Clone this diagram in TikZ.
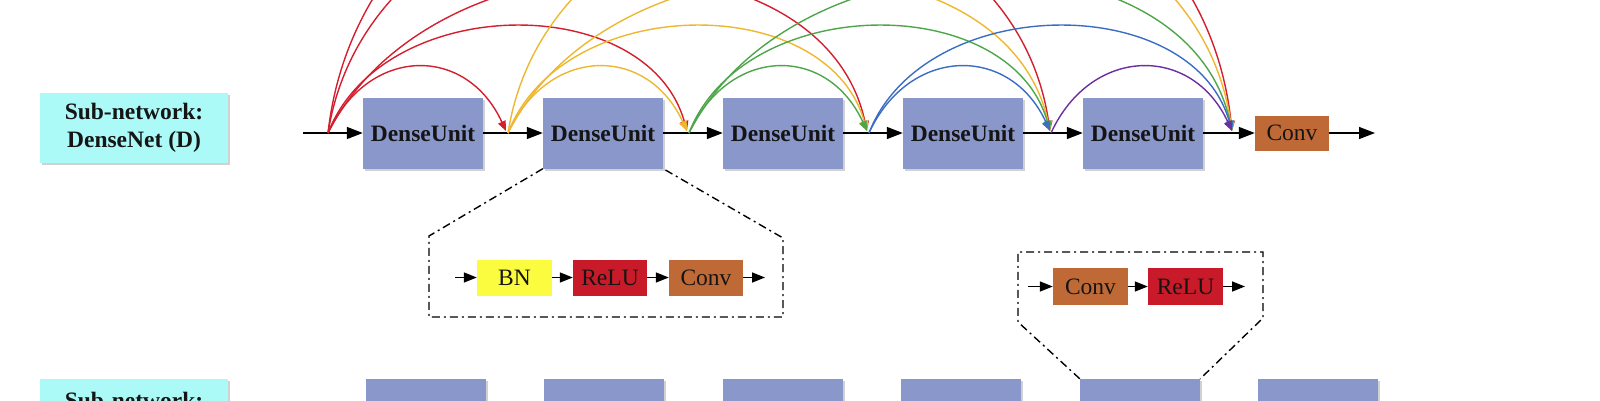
\documentclass[tikz,border=0pt]{standalone}
\usepackage{fontspec}
\setmainfont{Liberation Serif}
\usetikzlibrary{arrows.meta,calc,shadows}
\definecolor{duBlue}{HTML}{8A97CA}
\definecolor{labCyan}{HTML}{ABFAF8}
\definecolor{bnYellow}{HTML}{FBFB3F}
\definecolor{reluRed}{HTML}{C81A28}
\definecolor{convBrown}{HTML}{BF6A36}
\definecolor{arcRed}{HTML}{D31F2E}
\definecolor{arcYellow}{HTML}{EDB830}
\definecolor{arcGreen}{HTML}{4FA64A}
\definecolor{arcBlue}{HTML}{3B6DC4}
\definecolor{arcPurple}{HTML}{6B2FA2}
\definecolor{inkc}{HTML}{151515}
\newcommand{\skiparc}[6]{\draw[#1] (#2) .. controls ($(#2)+(#4,-#6)$) and ($(#3)+(-#5,-#6)$) .. (#3);}
\tikzset{
  shade box/.style={drop shadow={shadow xshift=2pt, shadow yshift=-2pt, opacity=0.18, fill=black}},
  unitbox/.style={shade box, fill=duBlue, minimum width=120pt, minimum height=71pt, inner sep=0pt,
     text=inkc, font=\fontsize{23.5}{28}\selectfont\bfseries},
  labelbox/.style={shade box, fill=labCyan, minimum width=188pt, minimum height=70pt, inner sep=0pt,
     text=inkc, align=center, font=\fontsize{23.5}{28}\selectfont\bfseries},
  opbox/.style={minimum width=75pt, minimum height=36pt, inner sep=0pt, text=inkc,
     font=\fontsize{23.5}{28}\selectfont},
  flow/.style={line width=1.5pt, draw=black, -{Triangle[length=16pt,width=12pt]}},
  smallflow/.style={line width=1.5pt, draw=black, -{Triangle[length=13pt,width=10pt]}},
  skip/.style={line width=1.4pt, -{Triangle[length=10pt,width=8pt]}},
  dashdot/.style={line width=1.4pt, draw=black, dash pattern=on 8pt off 4pt on 2pt off 4pt}
}
\begin{document}
\begin{tikzpicture}[x=1pt,y=-1pt]
\useasboundingbox (0,0) rectangle (1600,400);
\clip (0,0) rectangle (1600,400);

% ---- top row -----
\node[labelbox] (lab1) at (134,128) {Sub-network:\\DenseNet (D)};
\node[unitbox] (DU1) at (423,133) {DenseUnit};
\node[unitbox] (DU2) at (603,133) {DenseUnit};
\node[unitbox] (DU3) at (783,133) {DenseUnit};
\node[unitbox] (DU4) at (963,133) {DenseUnit};
\node[unitbox] (DU5) at (1143,133) {DenseUnit};
\node[opbox, fill=convBrown, minimum width=74pt, minimum height=35pt] (CV) at (1292,133) {Conv};
\coordinate (in) at (303,133);
\coordinate (out) at (1375,133);

\draw[flow] (in) -- (DU1);
\draw[flow] (DU1) -- (DU2);
\draw[flow] (DU2) -- (DU3);
\draw[flow] (DU3) -- (DU4);
\draw[flow] (DU4) -- (DU5);
\draw[flow] (DU5) -- (CV);
\draw[flow] (CV) -- (out);

% junctions
\coordinate (S0) at (328,133);
\coordinate (S1) at (508,133);
\coordinate (S2) at (689,133);
\coordinate (S3) at (869,133);
\coordinate (S4) at (1051,133);
\coordinate (E1) at (506,131);
\coordinate (E2) at (687,131);
\coordinate (E3) at (867,131);
\coordinate (E4) at (1050,131);
\coordinate (E5) at (1232,131);

% red arcs from S0
\skiparc{skip,arcRed}{S0}{E5}{50}{48}{440}
\skiparc{skip,arcRed}{S0}{E4}{53}{50}{333}
\skiparc{skip,arcRed}{S0}{E3}{105}{45}{207}
\skiparc{skip,arcRed}{S0}{E2}{55}{40}{141}
\skiparc{skip,arcRed}{S0}{E1}{40}{40}{87}
% yellow arcs from S1
\skiparc{skip,arcYellow}{S1}{E5}{53}{50}{333}
\skiparc{skip,arcYellow}{S1}{E4}{105}{45}{207}
\skiparc{skip,arcYellow}{S1}{E3}{55}{40}{141}
\skiparc{skip,arcYellow}{S1}{E2}{40}{40}{87}
% green arcs from S2
\skiparc{skip,arcGreen}{S2}{E5}{105}{45}{207}
\skiparc{skip,arcGreen}{S2}{E4}{55}{40}{141}
\skiparc{skip,arcGreen}{S2}{E3}{40}{40}{87}
% blue arcs from S3
\skiparc{skip,arcBlue}{S3}{E5}{55}{40}{141}
\skiparc{skip,arcBlue}{S3}{E4}{40}{40}{87}
% purple arc from S4
\skiparc{skip,arcPurple}{S4}{E5}{40}{40}{87}

% ---- expansion of DenseUnit ----
\coordinate (p1a) at (429,236);
\coordinate (p1b) at (429,317);
\coordinate (p1c) at (783,317);
\coordinate (p1d) at (783,238);
\draw[dashdot] (DU2.south west) -- (p1a) -- (p1b) -- (p1c) -- (p1d) -- (DU2.south east);

\node[opbox, fill=bnYellow] (BN) at (514.5,277.5) {BN};
\node[opbox, fill=reluRed, minimum width=74pt] (RL) at (610,277.5) {ReLU};
\node[opbox, fill=convBrown, minimum width=74pt] (CA) at (706,277.5) {Conv};
\coordinate (ain) at (455,277.5);
\coordinate (aout) at (765,277.5);
\draw[smallflow] (ain) -- (BN);
\draw[smallflow] (BN) -- (RL);
\draw[smallflow] (RL) -- (CA);
\draw[smallflow] (CA) -- (aout);

% ---- bottom row ----
\node[labelbox] (lab2) at (134,414) {};
\node[anchor=base, text=inkc, font=\fontsize{23.5}{28}\selectfont\bfseries] (lab2t) at (134,408) {Sub-network:};
\node[unitbox] (B1) at (426,414.5) {};
\node[unitbox] (B2) at (604,414.5) {};
\node[unitbox] (B3) at (783,414.5) {};
\node[unitbox] (B4) at (961,414.5) {};
\node[unitbox] (B5) at (1140,414.5) {};
\node[unitbox] (B6) at (1318,414.5) {};

% ---- expansion of bottom unit ----
\coordinate (p2a) at (1018,322);
\coordinate (p2b) at (1018,252);
\coordinate (p2c) at (1263,252);
\coordinate (p2d) at (1263,318);
\draw[dashdot] (B5.north west) -- (p2a) -- (p2b) -- (p2c) -- (p2d) -- (B5.north east);

\node[opbox, fill=convBrown, minimum height=37pt] (CB) at (1090.5,286.5) {Conv};
\node[opbox, fill=reluRed, minimum height=37pt] (RB) at (1185.5,286.5) {ReLU};
\coordinate (bin) at (1028,286.5);
\coordinate (bout) at (1245,286.5);
\draw[smallflow] (bin) -- (CB);
\draw[smallflow] (CB) -- (RB);
\draw[smallflow] (RB) -- (bout);
\end{tikzpicture}
\end{document}
